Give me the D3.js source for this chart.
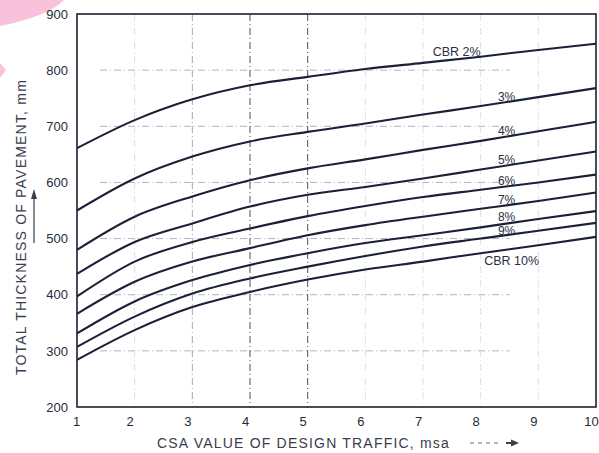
<!DOCTYPE html>
<html>
<head>
<meta charset="utf-8">
<script src="https://cdn.jsdelivr.net/npm/d3@7"></script>
<style>
  html, body { margin: 0; padding: 0; background: #fff; }
  svg { display: block; font-family: "Liberation Sans", Arial, sans-serif; }
  .tick text { fill: #262a36; font-size: 13px; }
</style>
</head>
<body>
<svg id="chart" width="599" height="453"></svg>
<script>
// CSA value of design traffic, msa
const trafficMsa = [1, 2, 3, 4, 5, 6, 7, 8, 9, 10];

// total pavement thickness (mm) per CBR curve
const cbr2  = [661, 711, 748, 773, 788, 802, 813, 824, 836, 847];
const cbr3  = [550, 607, 646, 673, 690, 705, 721, 736, 752, 768];
const cbr4  = [480, 539, 575, 604, 625, 641, 658, 674, 691, 708];
const cbr5  = [437, 494, 527, 557, 578, 592, 607, 623, 639, 655];
const cbr6  = [397, 459, 494, 518, 540, 558, 574, 587, 600, 614];
const cbr7  = [366, 423, 459, 483, 506, 524, 539, 553, 567, 582];
const cbr8  = [331, 388, 426, 453, 474, 492, 506, 520, 535, 549];
const cbr9  = [307, 361, 402, 429, 450, 469, 486, 500, 514, 528];
const cbr10 = [284, 337, 378, 405, 427, 445, 459, 474, 488, 503];

const curveNames = ["CBR 2%", "3%", "4%", "5%", "6%", "7%", "8%", "9%", "CBR 10%"];
const curveValues = [cbr2, cbr3, cbr4, cbr5, cbr6, cbr7, cbr8, cbr9, cbr10];

const xTicks = [1, 2, 3, 4, 5, 6, 7, 8, 9, 10];
const yTicks = [200, 300, 400, 500, 600, 700, 800, 900];

const svg = d3.select("#chart");
const plotLeft = 77, plotRight = 596, plotTop = 14, plotBottom = 407;

const x = d3.scaleLinear().domain([1, 10]).range([plotLeft, plotRight]);
const y = d3.scaleLinear().domain([200, 900]).range([plotBottom, plotTop]);

// pink watermark corner
svg.append("path")
  .attr("d", "M0,0 L64,0 C52,12 30,20 0,26 Z")
  .attr("fill", "#f8c3da");
svg.append("path")
  .attr("d", "M0,63 L6,70 L0,78 Z")
  .attr("fill", "#f8c3da");

// dash-dot grid
const grid = svg.append("g")
  .attr("fill", "none")
  .attr("stroke-dasharray", "7,3,1,3");

grid.selectAll("line.h")
  .data(yTicks.filter(d => d > 200 && d < 900))
  .enter().append("line")
  .attr("class", "h")
  .attr("x1", x(1.4))
  .attr("x2", x(8.5))
  .attr("y1", d => y(d))
  .attr("y2", d => y(d))
  .attr("stroke", "#9aa0ae")
  .attr("stroke-width", 0.8);

grid.selectAll("line.v")
  .data(xTicks.filter(d => d > 1 && d < 10))
  .enter().append("line")
  .attr("class", "v")
  .attr("x1", d => x(d))
  .attr("x2", d => x(d))
  .attr("y1", plotTop)
  .attr("y2", plotBottom)
  .attr("stroke", d => (d === 4 || d === 5) ? "#4a5066" : (d === 3 ? "#8a90a0" : "#d4d7de"))
  .attr("stroke-width", d => (d === 4 || d === 5) ? 1 : 0.8);

// curves
const line = d3.line()
  .x((d, i) => x(trafficMsa[i]))
  .y(d => y(d))
  .curve(d3.curveMonotoneX);

svg.append("g")
  .selectAll("path")
  .data(curveValues)
  .enter().append("path")
  .attr("d", line)
  .attr("fill", "none")
  .attr("stroke", "#1a2036")
  .attr("stroke-width", 2.1);

// curve labels
function valueAt(series, xv) {
  return d3.scaleLinear().domain(trafficMsa).range(series)(xv);
}
const labels = svg.append("g")
  .attr("fill", "#2a2f44")
  .attr("font-size", 12);

// small vertical nudges so the crowded 8% / 9% labels do not collide
const nudge = { "8%": -1.5, "9%": 1.5 };

curveNames.forEach((name, i) => {
  const series = curveValues[i];
  if (i === 0) {
    labels.append("text").attr("x", x(8)).attr("y", y(valueAt(series, 8)) - 1)
      .attr("text-anchor", "end").attr("font-size", 12.5).text(name);
  } else if (i === curveNames.length - 1) {
    labels.append("text").attr("x", x(8.06)).attr("y", y(valueAt(series, 8.5)) + 16)
      .attr("text-anchor", "start").attr("font-size", 12.5).text(name);
  } else {
    labels.append("text").attr("x", x(8.6))
      .attr("y", y(valueAt(series, 8.6)) + (nudge[name] || 0))
      .attr("text-anchor", "end").text(name);
  }
});

// frame
svg.append("rect")
  .attr("x", plotLeft).attr("y", plotTop)
  .attr("width", plotRight - plotLeft).attr("height", plotBottom - plotTop)
  .attr("fill", "none")
  .attr("stroke", "#1c2030")
  .attr("stroke-width", 1.6);

// axes
const yAxis = svg.append("g")
  .attr("transform", `translate(${plotLeft},0)`)
  .call(d3.axisLeft(y).tickValues(yTicks).tickSize(0).tickPadding(9));
yAxis.select(".domain").remove();

const xAxis = svg.append("g")
  .attr("transform", `translate(0,${plotBottom})`)
  .call(d3.axisBottom(x).tickValues(xTicks).tickSize(0).tickPadding(10));
xAxis.select(".domain").remove();
xAxis.selectAll(".tick text").attr("dx", d => d === 1 ? -1 : -5);

// axis titles
svg.append("text")
  .attr("transform", "translate(26,227) rotate(-90)")
  .attr("text-anchor", "middle")
  .attr("fill", "#3a3d4a")
  .attr("font-size", 14)
  .attr("letter-spacing", 1.2)
  .text("TOTAL THICKNESS OF PAVEMENT, mm");

svg.append("text")
  .attr("x", 157)
  .attr("y", 448)
  .attr("fill", "#3a3d4a")
  .attr("font-size", 14)
  .attr("letter-spacing", 1.2)
  .text("CSA VALUE OF DESIGN TRAFFIC, msa");

// arrows
svg.append("line")
  .attr("x1", 34).attr("x2", 34).attr("y1", 243).attr("y2", 196)
  .attr("stroke", "#3a3d4a").attr("stroke-width", 1.2);
svg.append("path")
  .attr("d", "M34,189 L31,199 L37,199 Z")
  .attr("fill", "#3a3d4a");

svg.append("line")
  .attr("x1", 470).attr("x2", 500).attr("y1", 443).attr("y2", 443)
  .attr("stroke", "#6a6d7a").attr("stroke-width", 1)
  .attr("stroke-dasharray", "4,4");
svg.append("line")
  .attr("x1", 506).attr("x2", 514).attr("y1", 443).attr("y2", 443)
  .attr("stroke", "#3a3d4a").attr("stroke-width", 2);
svg.append("path")
  .attr("d", "M519,443 L511,439.5 L511,446.5 Z")
  .attr("fill", "#3a3d4a");
</script>
</body>
</html>
